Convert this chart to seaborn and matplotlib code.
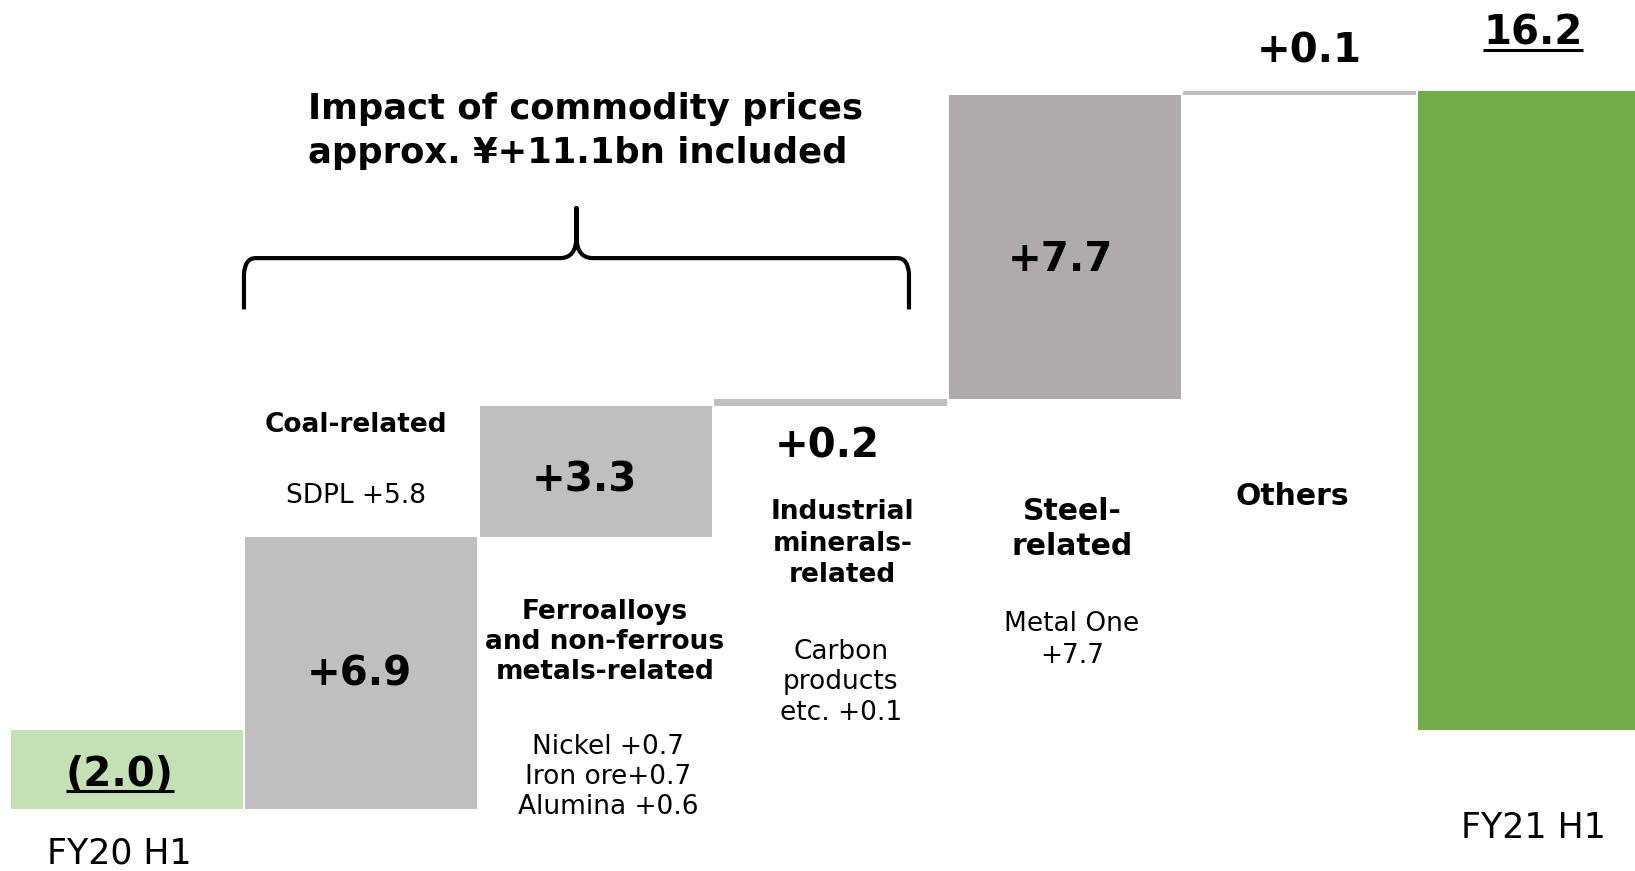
import numpy as np
import pandas as pd
import matplotlib
matplotlib.use("Agg")
import matplotlib.pyplot as plt
from matplotlib.path import Path
from matplotlib.patches import PathPatch
import seaborn as sns

# waterfall data (¥bn)
steps = ["FY20 H1", "Coal", "Ferroalloys", "Industrial", "Steel", "Others", "FY21 H1"]
deltas = [-2.0, 6.9, 3.3, 0.2, 7.7, 0.1, 16.2]
is_total = [True, False, False, False, False, False, True]
value_labels = ["(2.0)", "+6.9", "+3.3", "+0.2", "+7.7", "+0.1", "16.2"]
bar_colors = ["#c5e0b4", "#bfbfbf", "#bfbfbf", "#bfbfbf", "#afabab", "#bfbfbf", "#70ad47"]

# running bottoms
bottoms = []
running = 0.0
for d, tot in zip(deltas, is_total):
    if tot:
        bottoms.append(0.0)
        running = d
    else:
        bottoms.append(running)
        running += d

df = pd.DataFrame({"step": steps, "delta": deltas, "bottom": bottoms})

sns.set_theme(style="white")
plt.rcParams["font.family"] = ["DejaVu Sans"]
plt.rcParams["text.color"] = "black"

fig = plt.figure(figsize=(16.35, 8.71), dpi=100)
ax = fig.add_axes([0, 0, 1, 1])
sns.barplot(data=df, x="step", y="delta", bottom=df["bottom"].values,
            width=0.99, color="#bfbfbf", ax=ax, errorbar=None, linewidth=0)
for patch, c in zip(ax.patches, bar_colors):
    patch.set_facecolor(c)
    patch.set_edgecolor("none")

ax.set_xlim(-0.54, 6.43)
ax.set_ylim(-3.57, 18.5)
ax.axis("off")

dy = -0.1  # small vertical nudge for all annotations

# value labels
big = dict(fontsize=29, fontweight="bold", ha="center", va="center", color="black")
ax.text(-0.03, -1.03 + dy, value_labels[0], **big)
ax.text(0.99, 1.51 + dy, value_labels[1], **big)
ax.text(1.95, 6.42 + dy, value_labels[2], **big)
ax.text(2.985, 7.29 + dy, value_labels[3], **big)
ax.text(3.98, 12.02 + dy, value_labels[4], **big)
ax.text(5.04, 17.3 + dy, value_labels[5], **big)
ax.text(5.995, 17.75 + dy, value_labels[6], **big)

# category descriptions
bold = dict(fontsize=19, fontweight="bold", ha="center", va="center", color="black")
norm = dict(fontsize=19, ha="center", va="center", color="black")
ax.text(0.977, 7.82 + dy, "Coal-related", **bold)
ax.text(0.977, 6.04 + dy, "SDPL +5.8", **norm)
ax.text(2.039, 2.33 + dy, "Ferroalloys\nand non-ferrous\nmetals-related", linespacing=1.2, **bold)
ax.text(2.052, -1.08 + dy, "Nickel +0.7\nIron ore+0.7\nAlumina +0.6", linespacing=1.2, **norm)
ax.text(3.053, 4.82 + dy, "Industrial\nminerals-\nrelated", linespacing=1.28, **bold)
ax.text(3.044, 1.31 + dy, "Carbon\nproducts\netc. +0.1", linespacing=1.22, **norm)
ax.text(4.03, 5.2 + dy, "Steel-\nrelated", fontsize=21.5, fontweight="bold", ha="center",
        va="center", linespacing=1.25, color="black")
ax.text(4.03, 2.38 + dy, "Metal One\n+7.7", linespacing=1.3, **norm)
ax.text(4.97, 6.02 + dy, "Others", fontsize=21.5, fontweight="bold", ha="center",
        va="center", color="black")

ax.text(-0.03, -3.12, "FY20 H1", fontsize=25, ha="center", va="center", color="black")
ax.text(5.995, -2.38 + dy, "FY21 H1", fontsize=25, ha="center", va="center", color="black")

ax.text(0.773, 15.28 + dy, "Impact of commodity prices\napprox. ¥+11.1bn included",
        fontsize=25.5, fontweight="bold", ha="left", va="center", linespacing=1.35,
        color="black")

# underline the two totals
fig.canvas.draw()
renderer = fig.canvas.get_renderer()
for t in ax.texts:
    if t.get_text() in (value_labels[0], value_labels[6]):
        bb = t.get_window_extent(renderer).transformed(ax.transData.inverted())
        ax.plot([bb.x0, bb.x1], [bb.y0 + 0.1, bb.y0 + 0.1], color="black", lw=2.2,
                solid_capstyle="butt")

# curly brace over the commodity-related steps
xl, xr = 0.5, 3.335
xm = (xl + xr) / 2
yb, yh, yt = 10.76 + dy, 12.06 + dy, 13.33 + dy
verts = [
    (xl, yb), (xl, yh - 0.4),
    (xl + 0.004, yh), (xl + 0.05, yh),
    (xm - 0.07, yh),
    (xm, yh), (xm, yh + 0.55),
    (xm, yt),
    (xm, yh + 0.55),
    (xm, yh), (xm + 0.07, yh),
    (xr - 0.05, yh),
    (xr - 0.004, yh), (xr, yh - 0.4),
    (xr, yb),
]
codes = [
    Path.MOVETO, Path.LINETO,
    Path.CURVE3, Path.CURVE3,
    Path.LINETO,
    Path.CURVE3, Path.CURVE3,
    Path.LINETO,
    Path.LINETO,
    Path.CURVE3, Path.CURVE3,
    Path.LINETO,
    Path.CURVE3, Path.CURVE3,
    Path.LINETO,
]
ax.add_patch(PathPatch(Path(verts, codes), facecolor="none", edgecolor="black",
                       lw=3.0, joinstyle="round", capstyle="butt"))

fig.savefig("out.png", dpi=100)
